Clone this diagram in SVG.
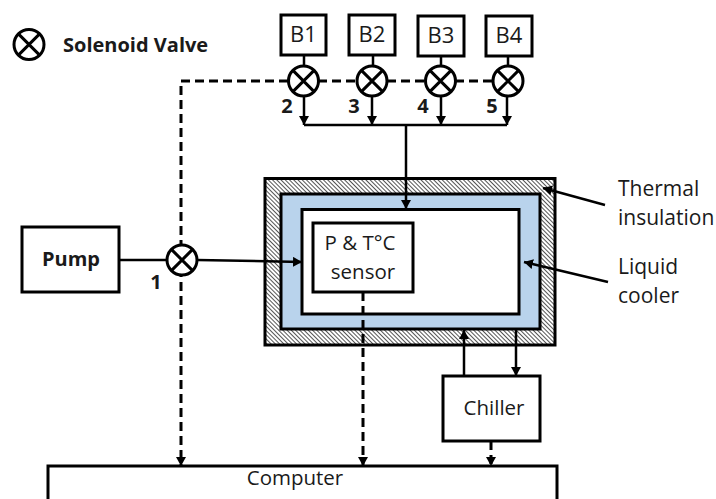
<svg xmlns="http://www.w3.org/2000/svg" width="716" height="499" viewBox="0 0 716 499">
<style>
text{font-family:"Open Sans","Noto Sans","Liberation Sans",sans-serif;fill:#1a1a1a;font-size:20.500px}
.c{text-anchor:middle}
.b{font-weight:700;font-size:20px}
.k{font-size:22px}
.r{font-size:21px}
.box{fill:#fff;stroke:#000;stroke-width:3}
.ln{fill:none;stroke:#000;stroke-width:2.500}
.d{stroke-width:3;stroke-dasharray:9 5}
.vc{fill:#fff;stroke:#000;stroke-width:3}
.vx{fill:none;stroke:#000;stroke-width:3}
</style>
<defs>
<pattern id="h" width="3" height="3" patternUnits="userSpaceOnUse" patternTransform="rotate(45)"><rect width="3" height="3" fill="#fff"/><rect width="3" height="1" fill="#555"/></pattern>
<marker id="a" markerUnits="userSpaceOnUse" markerWidth="10" markerHeight="10" refX="9" refY="5" orient="auto"><path d="M0 0L9 5L0 10Z" fill="#000"/></marker>
</defs>
<g id="chamber">
<rect x="265" y="178.500" width="290" height="166.500" fill="url(#h)" stroke="#000" stroke-width="3"/>
<rect x="281" y="194" width="259" height="135" fill="#b9d3ec" stroke="#000" stroke-width="3"/>
<rect x="302" y="209.500" width="217" height="104.500" class="box"/>
</g>
<g id="connectors">
<path class="ln d" d="M288 81H181V466" marker-end="url(#a)"/>
<path class="ln d" d="M318 81H358M387 81H426M455 81H494"/>
<path class="ln d" d="M363 292V466" marker-end="url(#a)"/>
<path class="ln d" d="M491 441V466" marker-end="url(#a)"/>
<path class="ln" d="M304 55V66M373 55V66M441 55V66M508 55V66"/>
<path class="ln" d="M304 96V125" marker-end="url(#a)"/>
<path class="ln" d="M372 96V125" marker-end="url(#a)"/>
<path class="ln" d="M441 96V125" marker-end="url(#a)"/>
<path class="ln" d="M507 96V125" marker-end="url(#a)"/>
<path class="ln" d="M304 125H507"/>
<path class="ln" d="M406 125V209" marker-end="url(#a)"/>
<path class="ln" d="M120 260H167"/>
<path class="ln" d="M197 260L302 262" marker-end="url(#a)"/>
<path class="ln" d="M464 376V330" marker-end="url(#a)"/>
<path class="ln" d="M516 329V376" marker-end="url(#a)"/>
<path class="ln" d="M605 205L543 188" marker-end="url(#a)"/>
<path class="ln" d="M608 282L524 262" marker-end="url(#a)"/>
</g>
<g id="legend"><circle class="vc" cx="29" cy="44.500" r="15"/><path class="vx" d="M18.400 33.900L39.600 55.100M18.400 55.100L39.600 33.900"/><text x="63" y="51.500" class="b">Solenoid Valve</text></g>
<g id="b1"><rect x="281" y="15" width="45" height="40" class="box"/><text x="303.500" y="42" class="c k">B1</text></g>
<g id="b2"><rect x="349" y="15" width="46" height="40" class="box"/><text x="372" y="42" class="c k">B2</text></g>
<g id="b3"><rect x="418" y="16" width="46" height="40" class="box"/><text x="441" y="43" class="c k">B3</text></g>
<g id="b4"><rect x="486" y="16" width="46" height="40" class="box"/><text x="509" y="43" class="c k">B4</text></g>
<g id="v2"><circle class="vc" cx="303.500" cy="81" r="15"/><path class="vx" d="M292.900 70.400L314.100 91.600M292.900 91.600L314.100 70.400"/><text x="287" y="113" class="c b">2</text></g>
<g id="v3"><circle class="vc" cx="372" cy="81" r="15"/><path class="vx" d="M361.400 70.400L382.600 91.600M361.400 91.600L382.600 70.400"/><text x="354" y="113" class="c b">3</text></g>
<g id="v4"><circle class="vc" cx="440.500" cy="81" r="15"/><path class="vx" d="M429.900 70.400L451.100 91.600M429.900 91.600L451.100 70.400"/><text x="423" y="113" class="c b">4</text></g>
<g id="v5"><circle class="vc" cx="508" cy="81" r="15"/><path class="vx" d="M497.400 70.400L518.600 91.600M497.400 91.600L518.600 70.400"/><text x="492" y="113" class="c b">5</text></g>
<g id="v1"><circle class="vc" cx="182" cy="260" r="15"/><path class="vx" d="M171.400 249.400L192.600 270.600M171.400 270.600L192.600 249.400"/><text x="156" y="289" class="c b">1</text></g>
<g id="pump"><rect x="22" y="227" width="97" height="65" class="box"/><text x="71" y="266" class="c b">Pump</text></g>
<g id="sensor"><rect x="313" y="223" width="100" height="69" class="box"/><text x="360" y="250" class="c">P &amp; T°C</text><text x="363" y="279" class="c">sensor</text></g>
<g id="chiller"><rect x="443" y="376" width="97" height="65" class="box"/><text x="494" y="415" class="c">Chiller</text></g>
<g id="computer"><rect x="48" y="466" width="509" height="45" class="box"/><text x="295" y="485" class="c">Computer</text></g>
<text x="618" y="196" class="r">Thermal</text>
<text x="618" y="225" class="r">insulation</text>
<text x="618" y="274" class="r">Liquid</text>
<text x="618" y="303" class="r">cooler</text>
</svg>
